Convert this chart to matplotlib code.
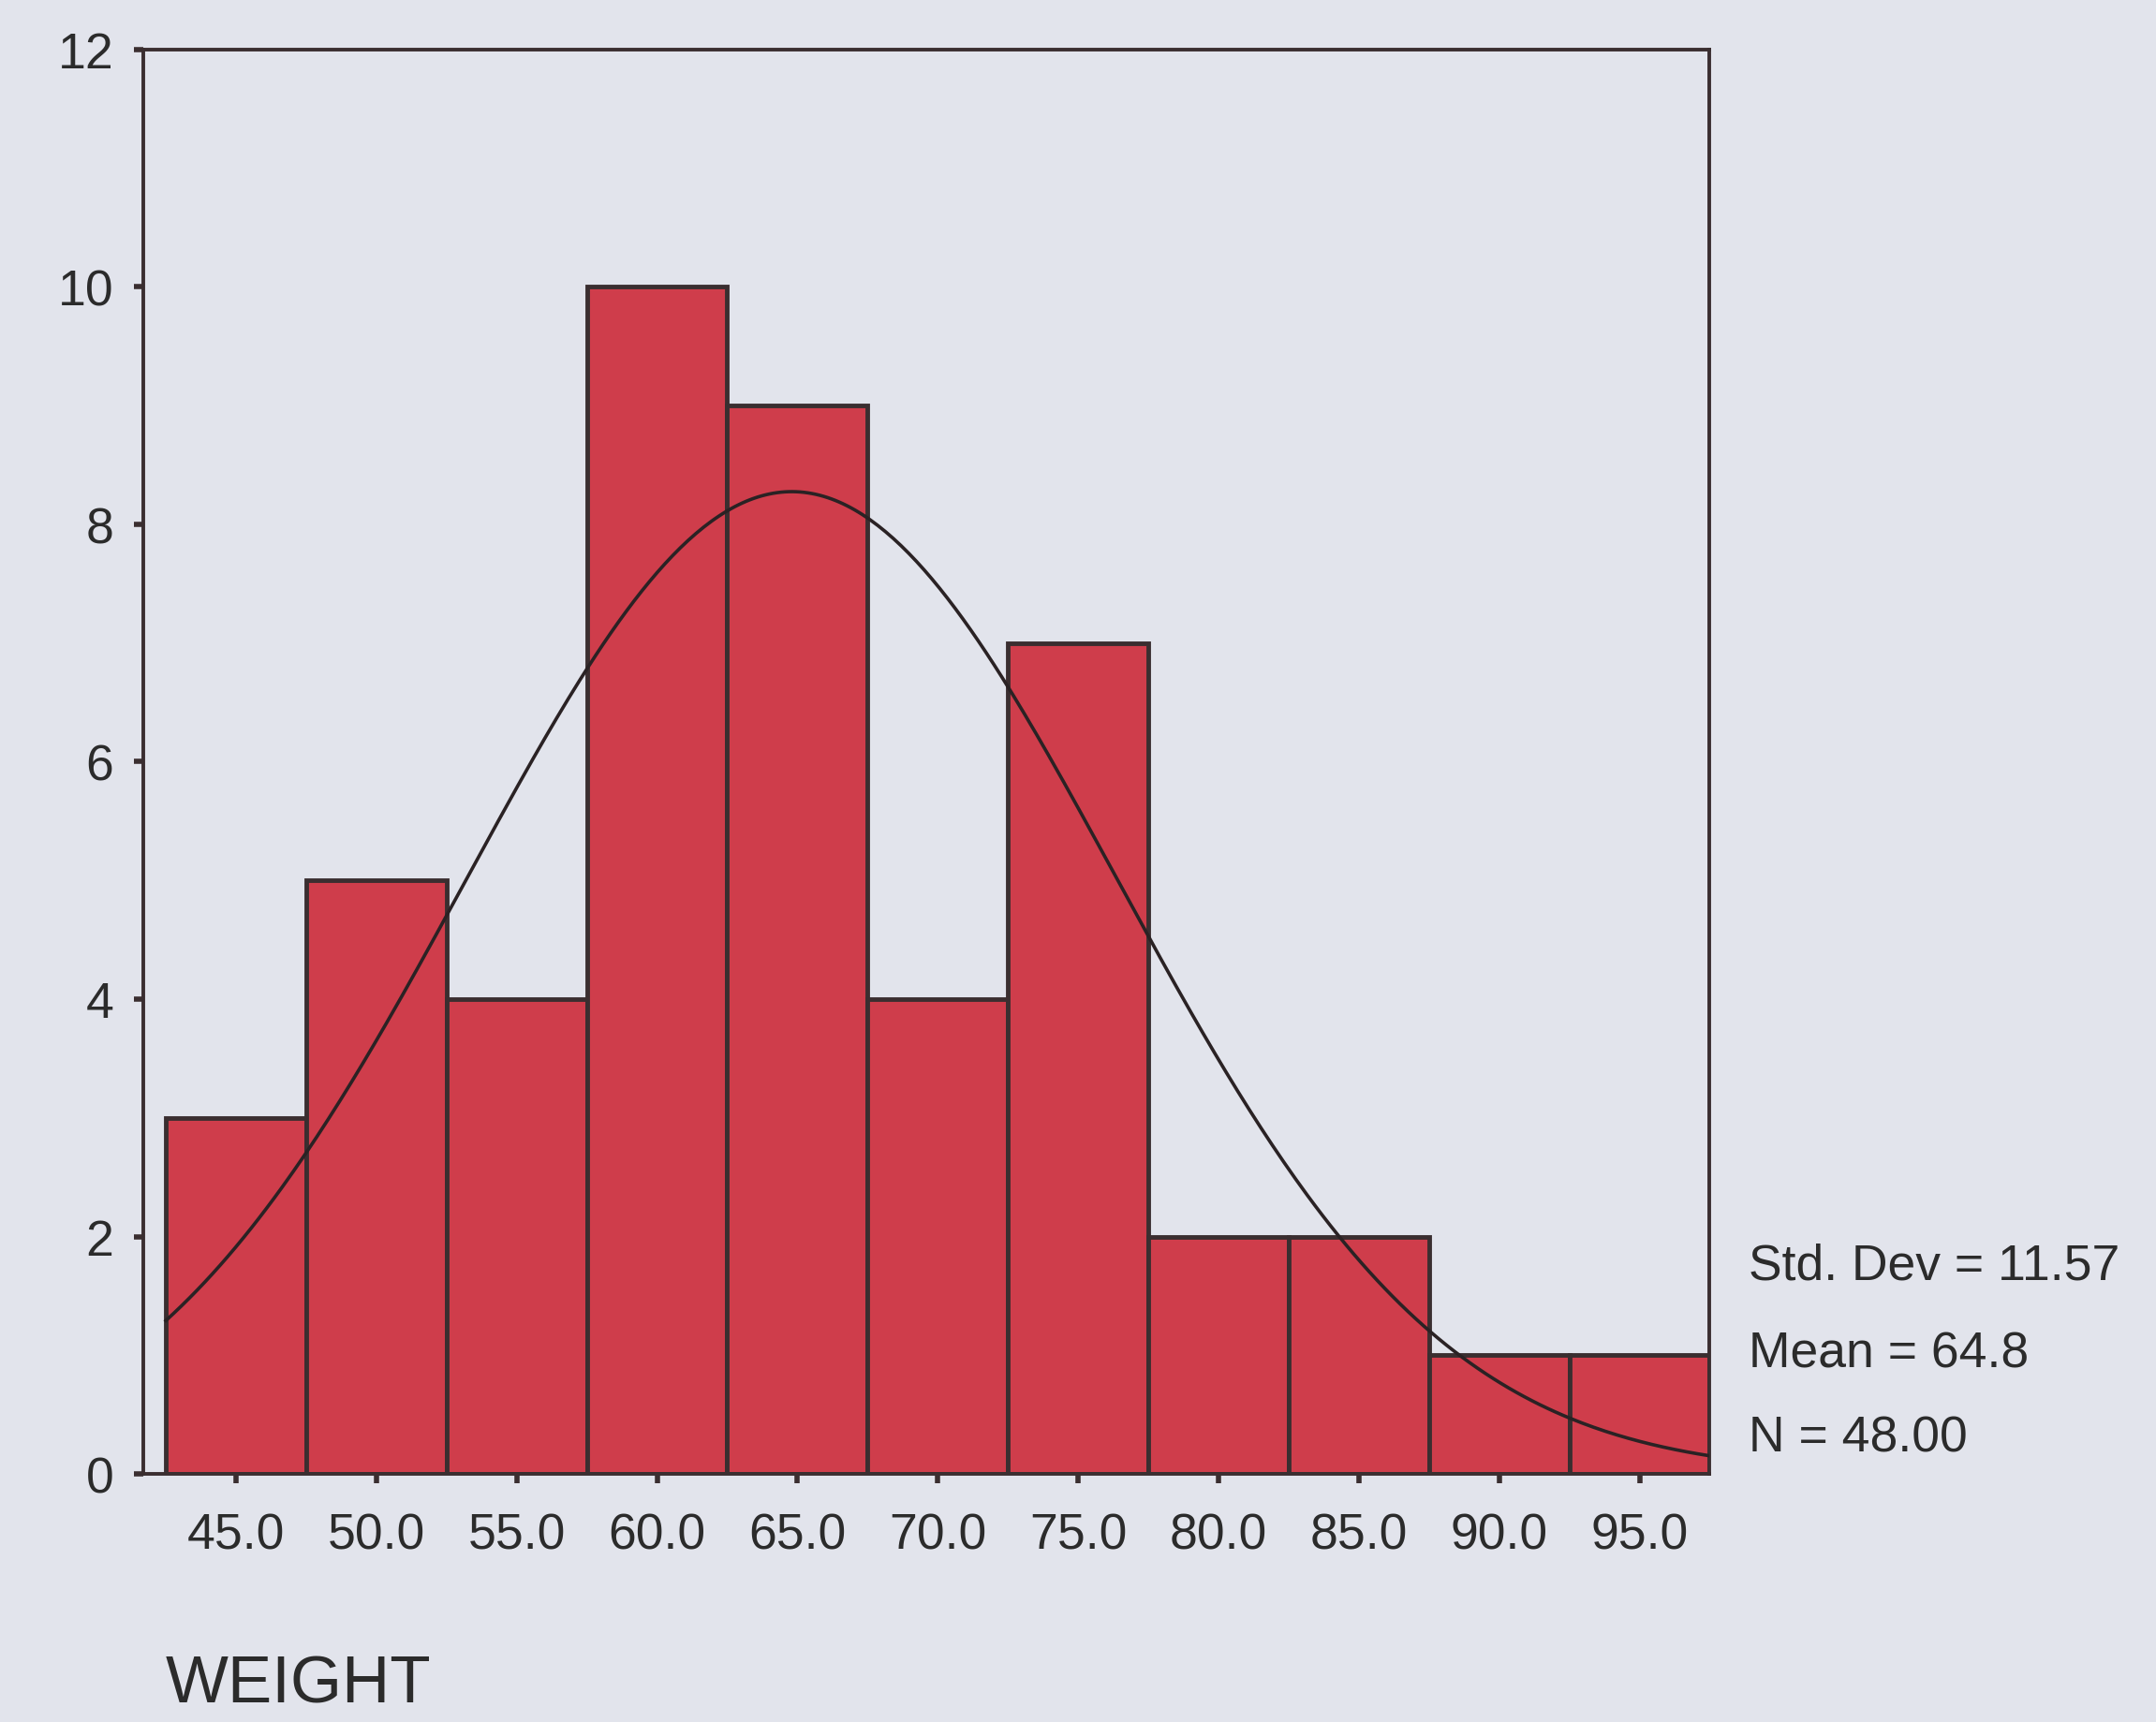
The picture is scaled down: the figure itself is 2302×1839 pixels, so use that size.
import numpy as np
import matplotlib
matplotlib.use("Agg")
import matplotlib.pyplot as plt

# histogram of WEIGHT (SPSS style), counts per 5-unit bin
bin_centers = [45.0, 50.0, 55.0, 60.0, 65.0, 70.0, 75.0, 80.0, 85.0, 90.0, 95.0]
counts = [3, 5, 4, 10, 9, 4, 7, 2, 2, 1, 1]
bin_width = 5.0

# summary statistics printed beside the chart
std_dev = 11.57
mean = 64.8
n_cases = 48.00

y_ticks = [0, 2, 4, 6, 8, 10, 12]

bg = "#e2e4ec"
bar_color = "#cf3d4b"
ink = "#3a2e30"
text_col = "#2b2b2b"

plt.rcParams["font.family"] = ["Liberation Sans", "DejaVu Sans"]

fig = plt.figure(figsize=(23.02, 18.40), dpi=100)
fig.patch.set_facecolor(bg)
ax = fig.add_axes([0.0665, 0.144, 0.7265, 0.8267])
ax.set_facecolor(bg)

ax.bar(bin_centers, counts, width=bin_width, color=bar_color,
       edgecolor=ink, linewidth=3.5, zorder=2)

# fitted normal curve from the reported mean / sd / N
xs = np.linspace(bin_centers[0] - bin_width / 2, bin_centers[-1] + bin_width / 2, 400)
scale = n_cases * bin_width / (std_dev * np.sqrt(2 * np.pi))
ax.plot(xs, scale * np.exp(-0.5 * ((xs - mean) / std_dev) ** 2),
        color="#2a2224", linewidth=2.6, zorder=3)

ax.set_xlim(41.7, 97.5)
ax.set_ylim(0, 12)
ax.set_xticks(bin_centers)
ax.set_xticklabels([f"{v:.1f}" for v in bin_centers])
ax.set_yticks(y_ticks)
ax.set_yticklabels([str(v) for v in y_ticks])

for s in ax.spines.values():
    s.set_color(ink)
    s.set_linewidth(2.8)

ax.tick_params(axis="both", direction="out", length=7, width=4,
               color=ink, labelcolor=text_col, labelsize=38.5)
ax.tick_params(axis="x", pad=22)
ax.tick_params(axis="y", pad=16)

stats = [f"Std. Dev = {std_dev:.2f}", f"Mean = {mean:.1f}", f"N = {n_cases:.2f}"]
for label, y in zip(stats, [0.2647, 0.2141, 0.1647]):
    fig.text(0.811, y, label, fontsize=38.5, color=text_col, va="center", ha="left")

fig.text(0.0766, 0.0212, "WEIGHT", fontsize=51, color=text_col, va="center", ha="left")

plt.savefig("out.png", dpi=100, facecolor=bg)
